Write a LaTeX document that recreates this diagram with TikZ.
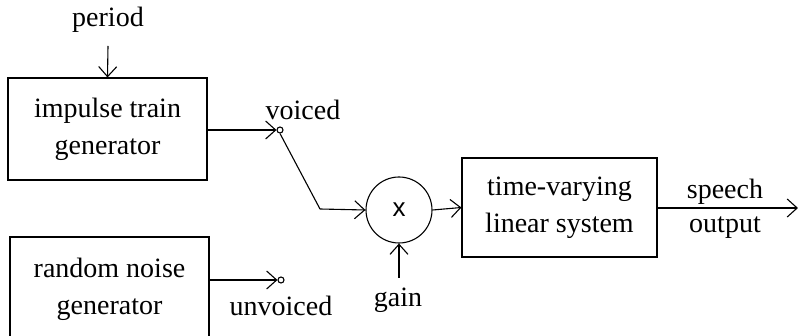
\documentclass[tikz,border=0pt]{standalone}
\usepackage{fontspec}
\setmainfont{Liberation Serif}
\newfontfamily\xfont{Liberation Sans}
\usetikzlibrary{arrows.meta}

\tikzset{
  block/.style={draw, line width=1.1pt, inner sep=0pt, align=center,
                font=\fontsize{28}{37}\selectfont},
  sig/.style={line width=1.1pt, -{Straight Barb[length=10pt,width=18pt,line width=1.1pt]}},
  wire/.style={line width=1.1pt},
  term/.style={draw, circle, line width=1.1pt, minimum size=6pt, inner sep=0pt},
  lbl/.style={font=\fontsize{28}{35}\selectfont, inner sep=0pt, align=center}
}

\begin{document}
\begin{tikzpicture}[x=1pt,y=-1pt]
\clip (0,0) rectangle (798,336);

% source blocks
\node [block, minimum width=199pt, minimum height=102pt] (pulse) at (107.5,129) {impulse train\\generator};
\node [block, minimum width=199pt, minimum height=104pt] (noise) at (109.5,289) {random noise\\generator};

% multiplier and filter
\node [draw, circle, line width=1.1pt, minimum size=66pt, inner sep=0pt,
       font=\xfont\fontsize{26}{26}\selectfont] (mult) at (399,210) {x};
\node [block, minimum width=195pt, minimum height=99pt] (filter) at (559.5,207.5) {time-varying\\linear system};

% switch contacts
\node [term] (vterm) at (280,130) {};
\node [term] (uterm) at (281,280) {};
\coordinate (bend) at (320,209);

% labels
\node [lbl] (period)   at (108,20)  {period};
\node [lbl] (voiced)   at (303,110) {voiced};
\node [lbl] (unvoiced) at (281,306) {unvoiced};
\node [lbl] (gain)     at (398,300) {gain};
\node [lbl] (speech)   at (725,192) {speech};
\node [lbl] (output)   at (725,228) {output};
\coordinate (out) at (798,208);
\coordinate (gtop) at (399,278);

% connections
\draw [sig] (period.south |- 0,46) -- (pulse.north);
\draw [sig] (pulse.east |- vterm) -- (vterm.west);
\draw [sig] (noise.east |- uterm) -- (uterm.west);
\draw [wire] (vterm.south) -- (bend);
\draw [sig] (bend) -- (mult.west);
\draw [sig] (gtop) -- (mult.south);
\draw [sig] (mult.east) -- (filter.west);
\draw [sig] (filter.east |- out) -- (out);

\end{tikzpicture}
\end{document}
